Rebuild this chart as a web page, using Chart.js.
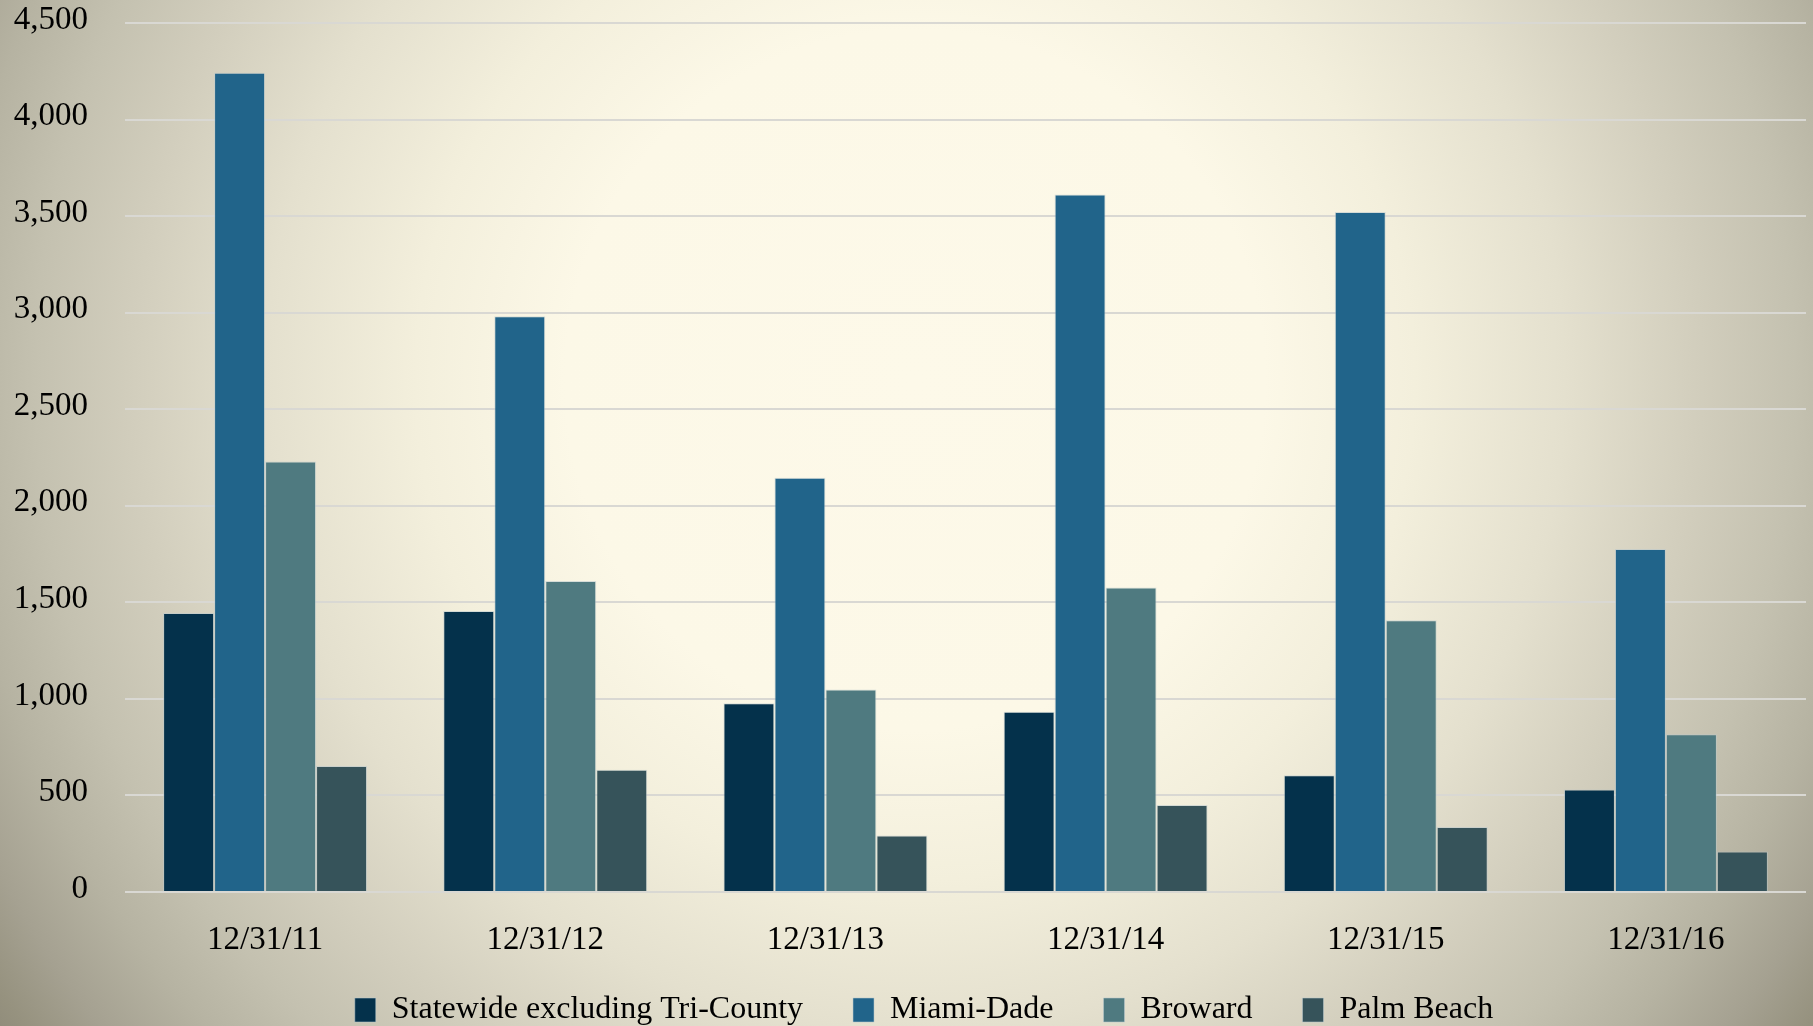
<!DOCTYPE html>
<html>
<head>
<meta charset="utf-8">
<script src="https://cdn.jsdelivr.net/npm/chart.js@4/dist/chart.umd.min.js"></script>
<style>
  html, body { margin: 0; padding: 0; overflow: hidden; width: 1813px; height: 1026px; }
  #wrap {
    position: absolute; left: 0; top: 0; width: 1813px; height: 1052px;
    background: radial-gradient(circle at 915px 380px,
      #fdf9e9 0px, #fcf8e7 350px, #f3efdc 500px, #e4e0ce 650px,
      #d2cebd 780px, #c4c1b0 880px, #b6b3a2 960px, #a5a191 1040px,
      #96927f 1100px, #8a8676 1150px);
  }
  canvas { display: block; }
</style>
</head>
<body>
<div id="wrap"><canvas id="c" width="1813" height="1052"></canvas></div>
<script>
const categories = ["12/31/11", "12/31/12", "12/31/13", "12/31/14", "12/31/15", "12/31/16"];
const seriesNames = ["Statewide excluding Tri-County", "Miami-Dade", "Broward", "Palm Beach"];
const statewide = [1445, 1455, 978, 933, 605, 531];
const miamiDade = [4243, 2981, 2145, 3612, 3521, 1776];
const broward = [2229, 1610, 1048, 1577, 1407, 817];
const palmBeach = [652, 633, 293, 451, 337, 210];
const yTicks = [0, 500, 1000, 1500, 2000, 2500, 3000, 3500, 4000, 4500];
const colors = ["#04314b", "#21648a", "#4f7a80", "#36535a"];

const FONT = "'Liberation Serif', 'Times New Roman', serif";
const seriesValues = [statewide, miamiDade, broward, palmBeach];

// shift the legend after layout so its spacing and placement match the original
const legendShift = {
  id: 'legendShift',
  afterLayout(chart) {
    const lg = chart.legend;
    if (!lg) return;
    const dx = 21, dy = -16;
    lg.left += dx; lg.right += dx;
    lg.top += dy; lg.bottom += dy;
  }
};

new Chart(document.getElementById('c'), {
  type: 'bar',
  data: {
    labels: categories,
    datasets: seriesNames.map((name, i) => ({
      label: name,
      data: seriesValues[i],
      backgroundColor: colors[i],
      borderColor: 'rgba(185,200,205,0.55)',
      borderWidth: 1,
      barPercentage: 1.0,
      categoryPercentage: 0.728
    }))
  },
  plugins: [legendShift],
  options: {
    responsive: false,
    animation: false,
    devicePixelRatio: 1,
    layout: { padding: { left: 0, right: 7, top: 23, bottom: 0 } },
    plugins: {
      tooltip: { enabled: false },
      legend: {
        position: 'bottom',
        labels: {
          color: '#000',
          font: { family: FONT, size: 32 },
          boxWidth: 21,
          boxHeight: 24,
          padding: 50
        }
      }
    },
    scales: {
      x: {
        afterFit: (s) => { s.height = 68; s.paddingLeft = 0; s.paddingRight = 0; },
        grid: { display: false, drawTicks: false },
        border: { display: false },
        ticks: { color: '#000', font: { family: FONT, size: 33 }, padding: 29, maxRotation: 0 }
      },
      y: {
        min: 0, max: 4500,
        afterFit: (s) => { s.width = 125; s.paddingTop = 0; s.paddingBottom = 0; },
        afterBuildTicks: (s) => { s.ticks = yTicks.map(v => ({ value: v })); },
        grid: { color: '#d9d8d3', lineWidth: 2, drawTicks: false },
        border: { display: false },
        ticks: {
          color: '#000',
          font: { family: FONT, size: 33 },
          padding: 37,
          labelOffset: -3,
          callback: (v) => Number(v).toLocaleString('en-US')
        }
      }
    }
  }
});
</script>
</body>
</html>
